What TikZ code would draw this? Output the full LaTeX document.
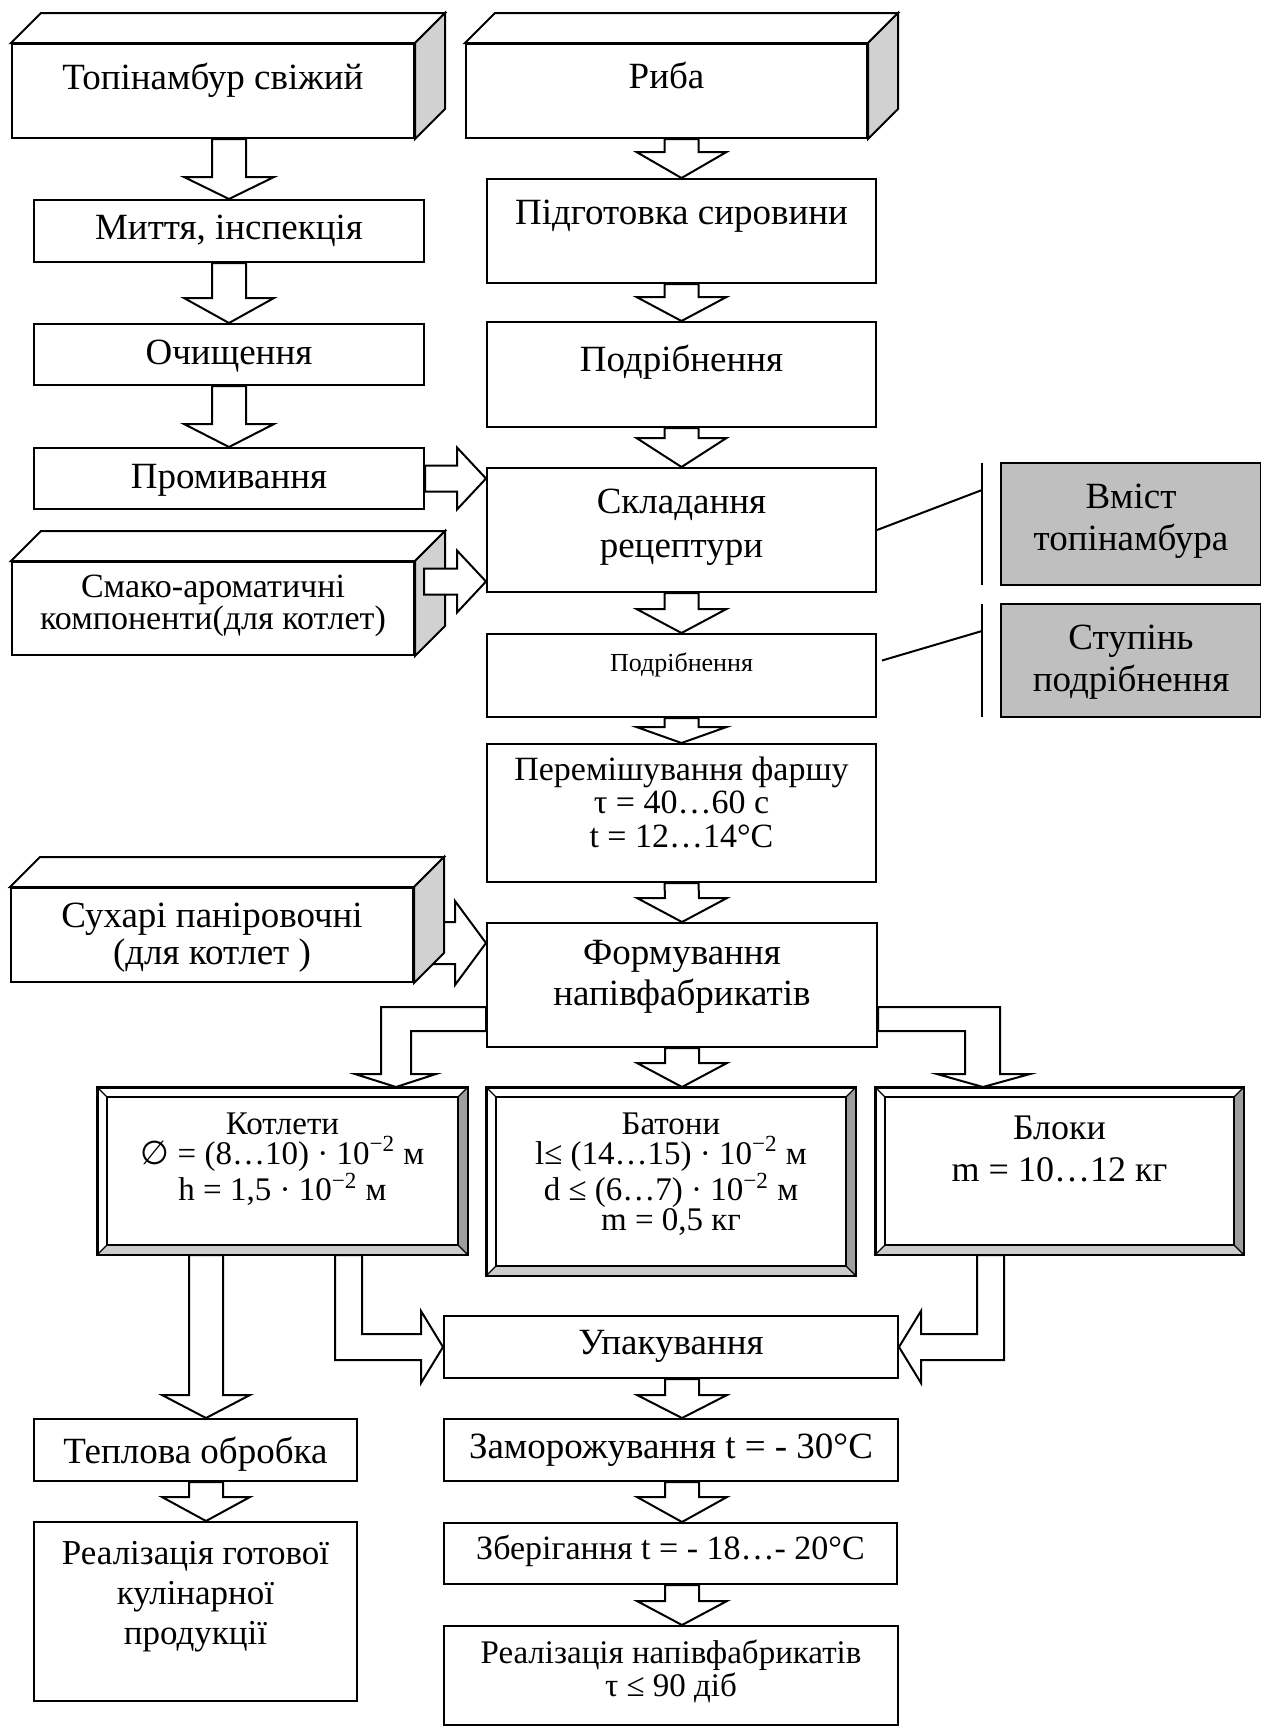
\documentclass[tikz,border=0pt]{standalone}
\usepackage{fontspec}
\setmainfont{Liberation Serif}
\newfontfamily\symbolfont{DejaVu Sans}
\usetikzlibrary{calc}
\setlength{\lineskiplimit}{-100pt}
\tikzset{
  procbox/.style={draw, line width=1pt, fill=white, rectangle, inner sep=0pt, align=flush center, anchor=north west, font={\fontsize{18.5}{21}\selectfont}},
  greybox/.style={procbox, fill=black!25},
  fatarrow/.style={draw, line width=1pt, fill=white, line join=miter},
  tieline/.style={line width=1pt},
}
\newcommand{\arrowdown}[5]{%
  \draw[fatarrow] ($(#1)+(-#3,0)$) -- ($(#2)+(-#3,-#5)$) -- ($(#2)+(-#4,-#5)$) -- (#2) -- ($(#2)+(#4,-#5)$) -- ($(#2)+(#3,-#5)$) -- ($(#1)+(#3,0)$) -- cycle;}
\newcommand{\arrowright}[5]{%
  \draw[fatarrow] ($(#1)+(0,-#3)$) -- ($(#2)+(-#5,-#3)$) -- ($(#2)+(-#5,-#4)$) -- (#2) -- ($(#2)+(-#5,#4)$) -- ($(#2)+(-#5,#3)$) -- ($(#1)+(0,#3)$) -- cycle;}
\newcommand{\solidtop}[1]{%
  \draw[line width=1pt, fill=white] (#1.north west) -- ++(30,-30) -- ($(#1.north east)+(30,-30)$) -- (#1.north east) -- cycle;
  \draw[line width=1pt, fill=black!18] (#1.north east) -- ++(30,-30) -- ($(#1.south east)+(30,-30)$) -- (#1.south east) -- cycle;}
\newcommand{\bevelframe}[1]{%
  \fill[black!38] (#1.north east) -- ($(#1.north east)+(-10,10)$) -- ($(#1.south east)+(-10,-10)$) -- (#1.south east) -- cycle;
  \fill[black!20] (#1.south west) -- ($(#1.south west)+(10,-10)$) -- ($(#1.south east)+(-10,-10)$) -- (#1.south east) -- cycle;
  \draw[line width=1pt] (#1.north west) rectangle (#1.south east);
  \draw[line width=0.8pt] ($(#1.north west)+(10,10)$) rectangle ($(#1.south east)+(-10,-10)$);
  \draw[line width=0.6pt] (#1.north west) -- ++(10,10) (#1.north east) -- ++(-10,10) (#1.south west) -- ++(10,-10) (#1.south east) -- ++(-10,-10);}

\begin{document}
\begin{tikzpicture}[x=0.5pt, y=-0.5pt]
    \useasboundingbox (0,0) rectangle (1261,1726);
    \node[procbox, text width=201pt, text height=22.5pt, text depth=24.5pt] (topin) at (11,43) {Топінамбур свіжий};
    \node[procbox, text width=195pt, text height=19.5pt, text depth=11.5pt] (wash) at (33,199) {Миття, інспекція};
    \node[procbox, text width=195pt, text height=20pt, text depth=10.5pt] (clean) at (33,323) {Очищення};
    \node[procbox, text width=195pt, text height=20pt, text depth=10.5pt] (rinse) at (33,447) {Промивання};
    \node[procbox, text width=201pt, text height=17.5pt, text depth=29pt, font={\fontsize{17}{16}\selectfont}] (spice) at (11,561) {Смако-ароматичні\\компоненти(для котлет)};
    \node[procbox, text width=200.5pt, text height=22pt, text depth=25pt] (fish) at (465,43) {Риба};
    \node[procbox, text width=194.5pt, text height=22.5pt, text depth=29.5pt] (prep) at (486,178) {Підготовка сировини};
    \node[procbox, text width=194.5pt, text height=24.5pt, text depth=28pt] (mince) at (486,321) {Подрібнення};
    \node[procbox, text width=194.5pt, text height=22.5pt, text depth=39.5pt, font={\fontsize{18.5}{22}\selectfont}] (recipe) at (486,467) {Складання\\рецептури};
    \node[procbox, text width=194.5pt, text height=18.5pt, text depth=23pt, font={\fontsize{13}{15}\selectfont}] (grind) at (486,633) {Подрібнення};
    \node[greybox, text width=130pt, text height=22.5pt, text depth=38.5pt] (share) at (1000,462) {Вміст\\топінамбура};
    \node[greybox, text width=130pt, text height=22.5pt, text depth=34pt] (degree) at (1000,603) {Ступінь\\подрібнення};
    \node[procbox, text width=194.5pt, text height=18pt, text depth=51pt, font={\fontsize{17}{16.75}\selectfont}] (mix) at (486,743) {Перемішування фаршу\\τ = 40…60 с\\t = 12…14°C};
    \node[procbox, text width=201pt, text height=19.5pt, text depth=27.5pt, font={\fontsize{18.5}{18.5}\selectfont}] (crumbs) at (10,887) {Сухарі паніровочні\\(для котлет )};
    \node[procbox, text width=195pt, text height=20.5pt, text depth=41.5pt, font={\fontsize{18.5}{20.5}\selectfont}] (form) at (486,922) {Формування\\напівфабрикатів};
    \node[procbox, text width=184.5pt, text height=23pt, text depth=60pt, font={\fontsize{16.5}{15}\selectfont}] (cutlet) at (97,1087) {Котлети\\{\symbolfont ∅} = (8…10) · 10\textsuperscript{−2} м\\h = 1,5 · 10\textsuperscript{−2} м};
    \node[procbox, text width=184pt, text height=23pt, text depth=70.5pt, font={\fontsize{16.5}{15}\selectfont}] (loaf) at (486,1087) {Батони\\l≤ (14…15) · 10\textsuperscript{−2} м\\d ≤ (6…7) · 10\textsuperscript{−2} м\\m = 0,5 кг};
    \node[procbox, text width=183.5pt, text height=25.5pt, text depth=57.5pt, font={\fontsize{18}{21}\selectfont}] (block) at (875,1087) {Блоки\\m = 10…12 кг};
    \node[procbox, text width=227pt, text height=19pt, text depth=12pt] (pack) at (443,1315) {Упакування};
    \node[procbox, text width=161.5pt, text height=22pt, text depth=9pt] (heat) at (33,1418) {Теплова обробка};
    \node[procbox, text width=227pt, text height=19.5pt, text depth=11.5pt] (freeze) at (443,1418) {Заморожування t = - 30°C};
    \node[procbox, text width=226.5pt, text height=18pt, text depth=12.5pt, font={\fontsize{17}{20}\selectfont}] (store) at (443,1522) {Зберігання t = - 18…- 20°C};
    \node[procbox, text width=161.5pt, text height=21pt, text depth=68.5pt, font={\fontsize{17.5}{20}\selectfont}] (sellcook) at (33,1521) {Реалізація готової\\кулінарної\\продукції};
    \node[procbox, text width=227pt, text height=18.5pt, text depth=31pt, font={\fontsize{16.5}{16.5}\selectfont}] (sellsemi) at (443,1625) {Реалізація напівфабрикатів\\τ ≤ 90 діб};
    \bevelframe{cutlet}
    \bevelframe{loaf}
    \bevelframe{block}
    \solidtop{topin}
    \solidtop{fish}
    \coordinate (crumbsout) at ($(crumbs.east)+(0,8)$);
    \arrowright{crumbsout}{form.west |- crumbsout}{21}{42}{31}
    \solidtop{spice}
    \solidtop{crumbs}
    \coordinate (spiceout) at ($(spice.east)+(9,-27)$);
    \arrowright{spiceout}{recipe.west |- spiceout}{13}{31}{29}
    \arrowright{rinse.east}{recipe.west |- rinse.east}{13}{31}{29}
    \arrowdown{topin.south -| wash.north}{wash.north}{17}{45}{22}
    \arrowdown{wash.south}{clean.north}{17}{45}{25}
    \arrowdown{clean.south}{rinse.north}{17}{45}{23}
    \arrowdown{fish.south -| prep.north}{prep.north}{17}{45}{26}
    \arrowdown{prep.south}{mince.north}{17}{45}{24}
    \arrowdown{mince.south}{recipe.north}{17}{45}{29}
    \arrowdown{recipe.south}{grind.north}{17}{45}{24}
    \arrowdown{grind.south}{mix.north}{17}{45}{16}
    \arrowdown{mix.south}{form.north}{17}{45}{24}
    \arrowdown{form.south}{loaf.north -| form.south}{17}{45}{24}
    \arrowdown{pack.south -| form.south}{freeze.north -| form.south}{17}{45}{23}
    \arrowdown{freeze.south -| form.south}{store.north -| form.south}{17}{45}{25}
    \arrowdown{store.south -| form.south}{sellsemi.north -| form.south}{17}{45}{24}
    \coordinate (cookcol) at ($(cutlet.south west)+(109,0)$);
    \arrowdown{cookcol}{heat.north -| cookcol}{17}{44}{23}
    \arrowdown{heat.south -| cookcol}{sellcook.north -| cookcol}{17}{44}{24}
    \coordinate (ctip) at ($(cutlet.north east)+(-72,0)$);
    \coordinate (btip) at ($(block.north west)+(108,0)$);
    \draw[fatarrow] ($(form.south west)+(0,-41)$) -| ($(ctip)+(-15,-13)$) -- ($(ctip)+(-41,-13)$) -- (ctip) -- ($(ctip)+(40,-13)$) -- ($(ctip)+(15,-13)$) |- ($(form.south west)+(0,-17)$) -- cycle;
    \draw[fatarrow] ($(form.south east)+(0,-41)$) -| ($(btip)+(17,-13)$) -- ($(btip)+(47,-13)$) -- (btip) -- ($(btip)+(-46,-13)$) -- ($(btip)+(-18,-13)$) |- ($(form.south east)+(0,-17)$) -- cycle;
    \draw[fatarrow] ($(cutlet.south west)+(238,0)$) |- ($(pack.west)+(-22,13)$) -- ($(pack.west)+(-22,36)$) -- (pack.west) -- ($(pack.west)+(-22,-36)$) -- ($(pack.west)+(-22,-13)$) -| ($(cutlet.south west)+(265,0)$) -- cycle;
    \draw[fatarrow] ($(block.south west)+(129,0)$) |- ($(pack.east)+(22,13)$) -- ($(pack.east)+(22,36)$) -- (pack.east) -- ($(pack.east)+(22,-36)$) -- ($(pack.east)+(22,-13)$) -| ($(block.south west)+(102,0)$) -- cycle;
    \draw[tieline] ($(share.north west)+(-18,1)$) -- ($(share.south west)+(-18,-1)$);
    \draw[tieline] (recipe.east) -- ($(share.north west)+(-18,28)$);
    \draw[tieline] ($(degree.north west)+(-18,1)$) -- ($(degree.south west)+(-18,-1)$);
    \draw[tieline] ($(grind.east)+(5,-15)$) -- ($(degree.north west)+(-18,28)$);
\end{tikzpicture}
\end{document}
